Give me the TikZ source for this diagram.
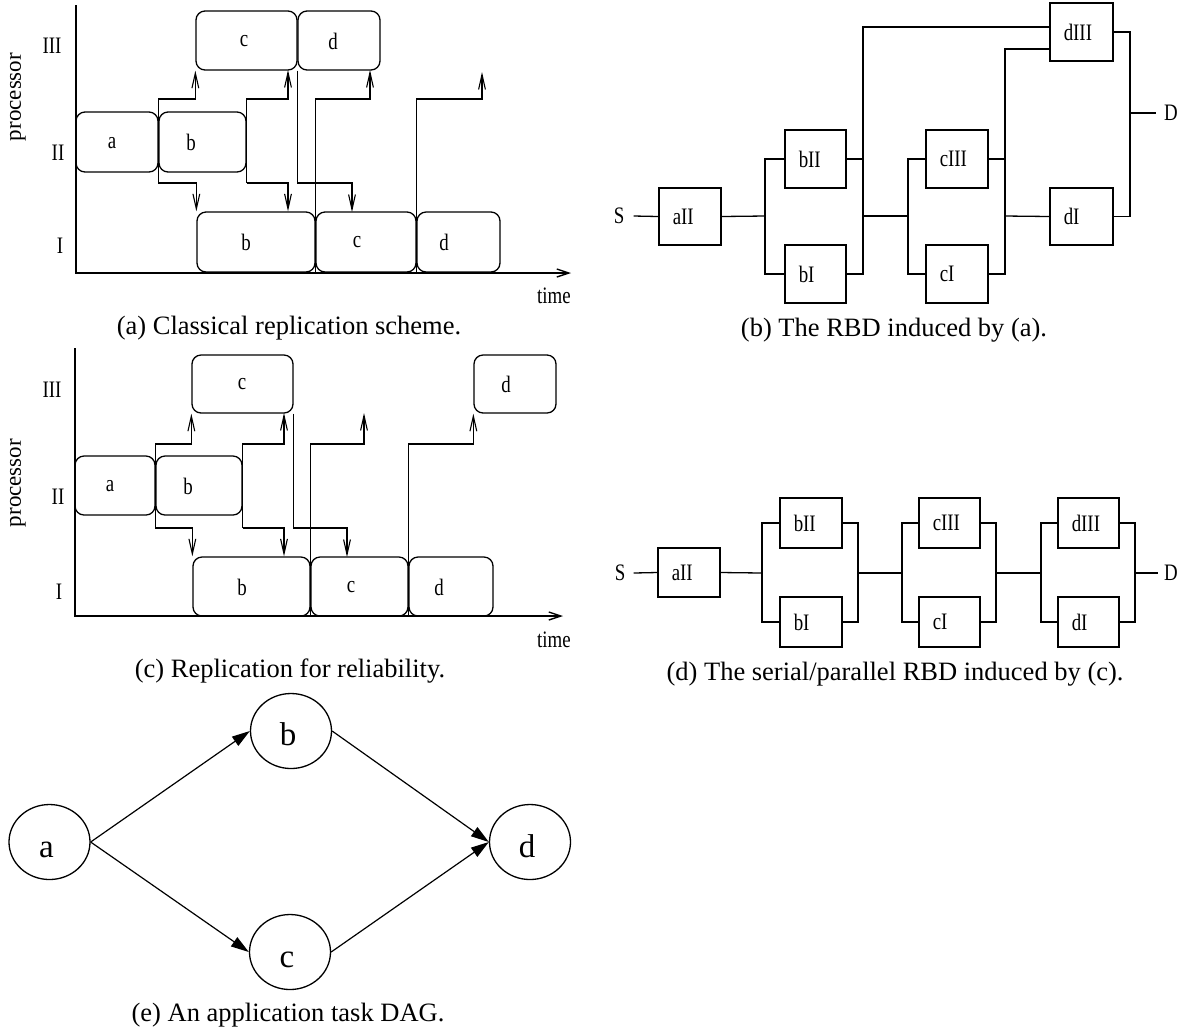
\documentclass[tikz,border=0pt]{standalone}
\usepackage{fontspec}
\setmainfont{Liberation Serif}
\newfontfamily\lblf{Liberation Serif}[FakeStretch=0.8]
\usetikzlibrary{arrows.meta,fit,calc,shapes.geometric}

\tikzset{
  ln/.style={line width=0.65pt},
  gbox/.style={draw, rounded corners=4.5pt, inner sep=0pt, line width=0.65pt},
  rbox/.style={draw, inner sep=0pt, line width=0.65pt},
  glbl/.style={font=\lblf\fontsize{11.8}{13}\selectfont, inner sep=0pt},
  plbl/.style={font=\fontsize{11.5}{13}\selectfont, inner sep=0pt},
  captxt/.style={font=\fontsize{13.25}{15}\selectfont, inner sep=0pt},
  msg/.style={line width=0.55pt, -{Straight Barb[length=7.5pt,width=3.4pt]}},
  axisarr/.style={line width=0.7pt, -{Straight Barb[length=6pt,width=4pt]}},
  dnode/.style={draw, ellipse, line width=0.65pt, minimum width=40.5pt, minimum height=37.5pt, inner sep=0pt},
  dlbl/.style={font=\fontsize{16.5}{18}\selectfont, inner sep=0pt, anchor=base},
  dedge/.style={line width=0.6pt, -{Triangle[length=9pt,width=5.5pt]}},
}
\newcommand{\gbx}[5]{\node[gbox, fit={(#2,#3) (#4,#5)}] (#1) {};}
\newcommand{\rbx}[6]{\node[rbox, fit={(#2,#3) (#4,#5)}] (#1) {};
  \node[glbl, anchor=west] (#1t) at ($(#1.west)+(7pt,0)$) {#6};}

\begin{document}
\begin{tikzpicture}[x=0.5pt,y=-0.5pt]
\useasboundingbox (0,0) rectangle (1181,1035);

% ================= (a) =================
\coordinate (aYtop) at (76,5);
\coordinate (aXend) at (571,273);
\draw[axisarr] (aYtop) |- (aXend);
\node[glbl] (aTime) at (554,296) {time};
\node[plbl, rotate=90] (aProc) at (18,97) {processor};
\node[glbl] (aP3) at (52,46) {III};
\node[glbl] (aP2) at (58,153) {II};
\node[glbl] (aP1) at (60,246) {I};

\gbx{Aa}{76}{112}{158}{172}
\gbx{Ab2}{159}{112}{246}{172}
\gbx{Ac3}{196}{11}{297}{70}
\gbx{Ad3}{298}{11}{380}{70}
\gbx{Ab1}{197}{212}{315}{272}
\gbx{Ac1}{316}{212}{416}{272}
\gbx{Ad1}{417}{212}{500}{272}
\node[glbl] (Aat) at (112,143) {a};
\node[glbl] (Ab2t) at (191,142) {b};
\node[glbl] (Ac3t) at (244,41) {c};
\node[glbl] (Ad3t) at (333,41) {d};
\node[glbl] (Ab1t) at (246,242) {b};
\node[glbl] (Ac1t) at (357,242) {c};
\node[glbl] (Ad1t) at (444,242) {d};

\coordinate (aHi) at (0,99);
\coordinate (aLo) at (0,183);
\coordinate (aT2) at (288,70);
\coordinate (aT3) at (352,212);
\coordinate (aT4) at (370,70);
\coordinate (aT5) at (482,72);
\draw[msg] (Ab2.west |- aLo) -- (Ab2.west |- aHi) -| (Ac3.south west);
\draw[msg] (Ab2.west |- aLo) -| (Ab1.north west);
\draw[msg] (Ab2.east |- aLo) -- (Ab2.east |- aHi) -| (aT2);
\draw[msg] (Ab2.east |- aLo) -| (aT2 |- Ab1.north);
\draw[msg] (Ac3.south east) |- (aLo -| aT3) -- (aT3);
\draw[msg] (Ab1.south east) |- (aHi -| aT4) -- (aT4);
\draw[msg] (Ac1.south east) |- (aHi -| aT5) -- (aT5);

\node[captxt] (capA) at (289,328) {(a) Classical replication scheme.};

% ================= (c) =================
\coordinate (cYtop) at (75,348);
\coordinate (cXend) at (563,616);
\draw[axisarr] (cYtop) |- (cXend);
\node[glbl] (cTime) at (554,640) {time};
\node[plbl, rotate=90] (cProc) at (18,483) {processor};
\node[glbl] (cP3) at (52,390) {III};
\node[glbl] (cP2) at (58,497) {II};
\node[glbl] (cP1) at (59,592) {I};

\gbx{Ca}{75}{456}{155}{515}
\gbx{Cb2}{156}{456}{242}{515}
\gbx{Cc3}{192}{355}{293}{413}
\gbx{Cd3}{474}{355}{556}{413}
\gbx{Cb1}{193}{557}{310}{616}
\gbx{Cc1}{311}{557}{408}{616}
\gbx{Cd1}{409}{557}{493}{616}
\node[glbl] (Cat) at (110,486) {a};
\node[glbl] (Cb2t) at (188,486) {b};
\node[glbl] (Cc3t) at (242,384) {c};
\node[glbl] (Cd3t) at (506,384) {d};
\node[glbl] (Cb1t) at (242,587) {b};
\node[glbl] (Cc1t) at (351,587) {c};
\node[glbl] (Cd1t) at (439,587) {d};

\coordinate (cHi) at (0,444);
\coordinate (cLo) at (0,528);
\coordinate (cT2) at (284,413);
\coordinate (cT3) at (347,557);
\coordinate (cT4) at (364,413);
\draw[msg] (Cb2.west |- cLo) -- (Cb2.west |- cHi) -| (Cc3.south west);
\draw[msg] (Cb2.west |- cLo) -| (Cb1.north west);
\draw[msg] (Cb2.east |- cLo) -- (Cb2.east |- cHi) -| (cT2);
\draw[msg] (Cb2.east |- cLo) -| (cT2 |- Cb1.north);
\draw[msg] (Cc3.south east) |- (cLo -| cT3) -- (cT3);
\draw[msg] (Cb1.south east) |- (cHi -| cT4) -- (cT4);
\draw[msg] (Cc1.south east) |- (cHi -| Cd3.south west) -- (Cd3.south west);

\node[captxt] (capC) at (290,671) {(c) Replication for reliability.};

% ================= (b) =================
\node[glbl, inner xsep=4.5pt] (bS) at (619,216) {S};
\rbx{baII}{659}{188}{721}{245}{aII}
\rbx{bbII}{785}{130}{846}{188}{bII}
\rbx{bbI}{785}{245}{846}{303}{bI}
\rbx{bcIII}{926}{130}{988}{188}{cIII}
\rbx{bcI}{926}{245}{988}{303}{cI}
\rbx{bdIII}{1050}{3}{1113}{61}{dIII}
\rbx{bdI}{1050}{188}{1113}{245}{dI}
\node[glbl, inner xsep=3.7pt] (bD) at (1171,113) {D};

\coordinate (bs1) at (765,216);
\coordinate (bj1) at (863,216);
\coordinate (bj1top) at (863,27);
\coordinate (bs2) at (908,216);
\coordinate (bj2) at (1005,216);
\coordinate (bj2top) at (1005,49);
\coordinate (bj3) at (1130,113);
\draw[ln] (bS.east) -- (baII.west);
\draw[ln] (baII.east) -- (bs1);
\draw[ln] (bbII.west) -| (bs1) |- (bbI.west);
\draw[ln] (bbII.east) -- (bbII.east -| bj1top);
\draw[ln] (bbI.east) -| (bj1top) -- (bj1top -| bdIII.west);
\draw[ln] (bj1) -- (bs2);
\draw[ln] (bcIII.west) -| (bs2) |- (bcI.west);
\draw[ln] (bcIII.east) -- (bcIII.east -| bj2top);
\draw[ln] (bcI.east) -| (bj2top) -- (bj2top -| bdIII.west);
\draw[ln] (bj2) -- (bdI.west);
\draw[ln] (bdIII.east) -| (bj3);
\draw[ln] (bdI.east) -| (bj3);
\draw[ln] (bj3) -- (bD.west);

\node[captxt] (capB) at (894,330) {(b) The RBD induced by (a).};

% ================= (d) =================
\node[glbl, inner xsep=4pt] (dS) at (620,573) {S};
\rbx{daII}{658}{548}{720}{597}{aII}
\rbx{dbII}{780}{498}{842}{548}{bII}
\rbx{dbI}{780}{597}{842}{647}{bI}
\rbx{dcIII}{919}{498}{980}{548}{cIII}
\rbx{dcI}{919}{597}{980}{647}{cI}
\rbx{ddIII}{1058}{498}{1119}{548}{dIII}
\rbx{ddI}{1058}{597}{1119}{647}{dI}
\node[glbl, inner xsep=2.75pt] (dD) at (1171,573) {D};

\coordinate (ds1) at (762,573);
\coordinate (dj1) at (858,573);
\coordinate (ds2) at (902,573);
\coordinate (dj2) at (996,573);
\coordinate (ds3) at (1041,573);
\coordinate (dj3) at (1135,573);
\draw[ln] (dS.east) -- (daII.west);
\draw[ln] (daII.east) -- (ds1);
\draw[ln] (dbII.west) -| (ds1) |- (dbI.west);
\draw[ln] (dbII.east) -| (dj1) |- (dbI.east);
\draw[ln] (dj1) -- (ds2);
\draw[ln] (dcIII.west) -| (ds2) |- (dcI.west);
\draw[ln] (dcIII.east) -| (dj2) |- (dcI.east);
\draw[ln] (dj2) -- (ds3);
\draw[ln] (ddIII.west) -| (ds3) |- (ddI.west);
\draw[ln] (ddIII.east) -| (dj3) |- (ddI.east);
\draw[ln] (dj3) -- (dD.west);

\node[captxt] (capD) at (895,674) {(d) The serial/parallel RBD induced by (c).};

% ================= (e) =================
\node[dnode] (ea) at (49.5,842) {};
\node[dnode] (eb) at (291,731) {};
\node[dnode] (ec) at (290,952) {};
\node[dnode] (ed) at (530,842) {};
\node[dlbl] (eat) at ($(ea.center)+(-1.5pt,-7.5pt)$) {a};
\node[dlbl] (ebt) at ($(eb.center)+(-1.5pt,-7pt)$) {b};
\node[dlbl] (ect) at ($(ec.center)+(-1.5pt,-7.5pt)$) {c};
\node[dlbl] (edt) at ($(ed.center)+(-1.5pt,-7.5pt)$) {d};
\draw[dedge] (ea.east) -- (eb.west);
\draw[dedge] (ea.east) -- (ec.west);
\draw[dedge] (eb.east) -- (ed.west);
\draw[dedge] (ec.east) -- (ed.west);

\node[captxt] (capE) at (288,1015) {(e) An application task DAG.};
\end{tikzpicture}
\end{document}
